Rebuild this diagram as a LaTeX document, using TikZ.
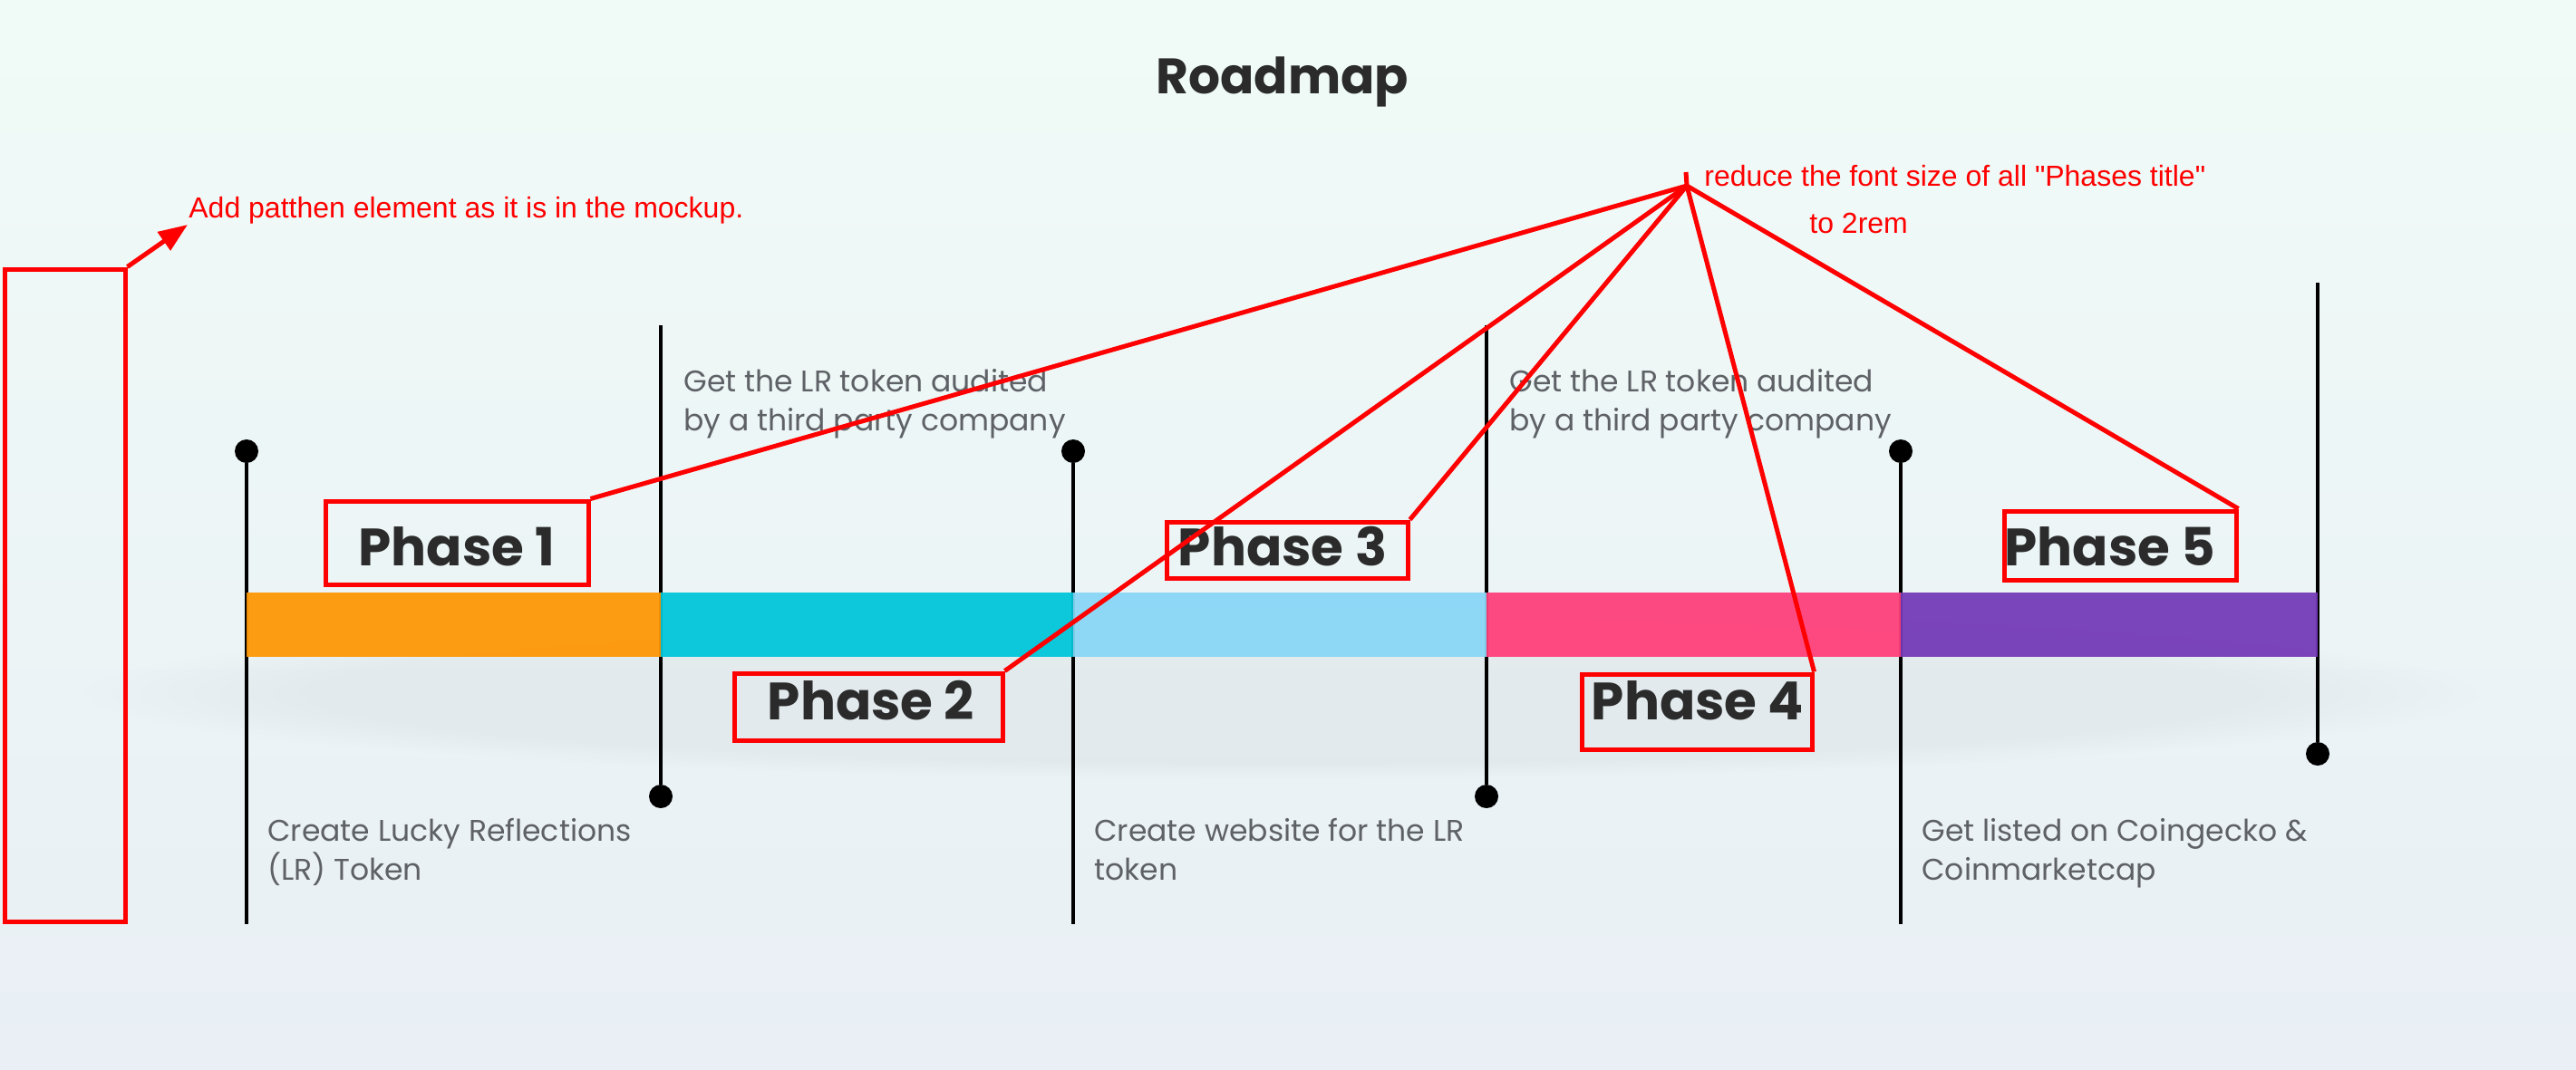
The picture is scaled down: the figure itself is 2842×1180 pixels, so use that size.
\documentclass[tikz,border=0pt]{standalone}
\usepackage{fontspec}
\setmainfont{Poppins}
\newfontfamily\notefont{Liberation Sans}
\usepackage{tikz}
\usetikzlibrary{arrows.meta,positioning,fadings}
\usepackage{xcolor}
\definecolor{bgtop}{RGB}{240,251,247}
\definecolor{bgbot}{RGB}{233,239,245}
\definecolor{ink}{RGB}{43,43,43}
\definecolor{greytext}{RGB}{94,97,102}
\definecolor{barorange}{RGB}{254,151,5}
\definecolor{barcyan}{RGB}{0,197,218}
\definecolor{barsky}{RGB}{137,214,246}
\definecolor{barpink}{RGB}{255,63,122}
\definecolor{barpurple}{RGB}{115,57,183}
\definecolor{markred}{RGB}{255,0,0}
\tikzset{
knob/.style={circle,fill=black,inner sep=0pt,minimum size=13pt},
stick/.style={draw=black,line width=2pt},
phasetitle/.style={font=\fontsize{29}{34}\selectfont\bfseries,text=ink,inner sep=0pt},
stepnote/.style={font=\fontsize{16.5}{21.5}\selectfont,text=greytext,align=left,anchor=north west,inner sep=0pt},
redbox/.style={draw=markred,line width=2.5pt,inner sep=0pt},
redline/.style={draw=markred,line width=2.5pt},
redtext/.style={font=\notefont\fontsize{16}{19}\selectfont,text=markred,anchor=base west,inner sep=0pt}
}
\begin{document}
\begin{tikzpicture}[x=0.5pt,y=-0.5pt]
\useasboundingbox (0,0) rectangle (2842,1180);
\shade[top color=bgtop,bottom color=bgbot] (0,0) rectangle (2842,1180);
\fill[black,opacity=0.035,path fading=circle with fuzzy edge 20 percent] (1414,765) ellipse [x radius=1330,y radius=95];
\node[font=\fontsize{27.5}{32}\selectfont\bfseries,text=ink,anchor=base,inner sep=0pt] (title) at (1415,103) {Roadmap};
% stems
\node[knob] (t1) at (272,498) {};
\coordinate (b1) at (272,1020);
\coordinate (t2) at (729,359);
\node[knob] (b2) at (729,879) {};
\node[knob] (t3) at (1184,498) {};
\coordinate (b3) at (1184,1020);
\coordinate (t4) at (1640,359);
\node[knob] (b4) at (1640,879) {};
\node[knob] (t5) at (2097,498) {};
\coordinate (b5) at (2097,1020);
\coordinate (t6) at (2557,312);
\node[knob] (b6) at (2557,832) {};
\path[stick]
(t1) edge (b1)
(t2) edge (b2)
(t3) edge (b3)
(t4) edge (b4)
(t5) edge (b5)
(t6) edge (b6);
% bar
\foreach \xa/\xb/\c in {272/729/barorange,729/1184/barcyan,1184/1640/barsky,1640/2097/barpink,2097/2557/barpurple}
  \fill[\c,opacity=0.94] (\xa,654) rectangle (\xb,725);
% step texts
\node[stepnote] (n2) at (754,407) {Get the LR token audited\\by a third party company};
\node[stepnote] (n4) at (1665,407) {Get the LR token audited\\by a third party company};
\node[stepnote] (n1) at (295,903) {Create Lucky Reflections\\(LR) Token};
\node[stepnote] (n3) at (1207,903) {Create website for the LR\\token};
\node[stepnote] (n5) at (2120,903) {Get listed on Coingecko \&\\Coinmarketcap};
% phase titles
\node[phasetitle] (ph1) at (504,603.5) {Phase 1};
\node[phasetitle] (ph2) at (961,773) {Phase 2};
\node[phasetitle] (ph3) at (1415,603.5) {Phase 3};
\node[phasetitle] (ph4) at (1873,773) {Phase 4};
\node[phasetitle] (ph5) at (2328,603) {Phase 5};
% review marks
\node[redbox,minimum width=145pt,minimum height=46pt] (box1) at (504,599) {};
\node[redbox,minimum width=148pt,minimum height=37pt] (box2) at (958,780) {};
\node[redbox,minimum width=133pt,minimum height=31pt] (box3) at (1420,607) {};
\node[redbox,minimum width=127pt,minimum height=41.5pt] (box4) at (1872,785.5) {};
\node[redbox,minimum width=128pt,minimum height=38pt] (box5) at (2339,602) {};
\node[redbox,minimum width=66.5pt,minimum height=360pt] (mockbox) at (71.5,657) {};
\coordinate (addtip) at (207,248);
\coordinate (hub) at (1861,205);
\coordinate (hook) at (1860,190);
\node[redtext] (addnote) at (208,240) {Add patthen element as it is in the mockup.};
\node[redtext] (fontnote) at (1880,205) {reduce the font size of all "Phases title"};
\node[redtext] (remnote) at (1996,257) {to 2rem};
\draw[redline,-{Triangle[length=16pt,width=12pt]}] (mockbox.north east) -- (addtip);
\path[redline]
(hub) edge (box1.north east)
(hub) edge (box2.north east)
(hub) edge (box3.north east)
(hub) edge (box4.north east)
(hub) edge (box5.north east)
(hub) edge (hook);
\end{tikzpicture}
\end{document}
